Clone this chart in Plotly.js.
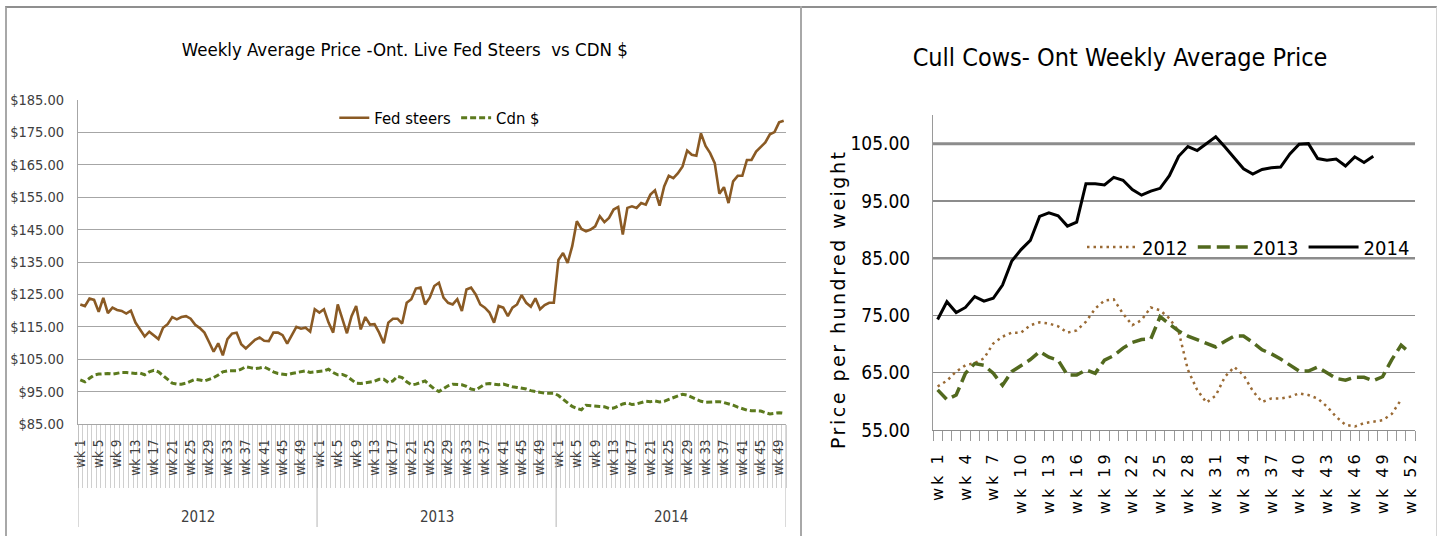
<!DOCTYPE html>
<html><head><meta charset="utf-8">
<script src="https://cdn.plot.ly/plotly-3.0.1.min.js"></script>
<style>
body{margin:0;background:#fff;width:1440px;height:536px;overflow:hidden;position:relative;}
#frame{position:absolute;left:5px;top:6px;width:1429px;height:540px;border-top:2px solid #8f8f8f;border-left:2px solid #a8a8a8;border-right:1px solid #d4d4d4;}
#divider{position:absolute;left:800px;top:6px;width:2px;height:540px;background:#a8a8a8;}
#left{position:absolute;left:0;top:0;width:800px;height:536px;}
#right{position:absolute;left:800px;top:0;width:640px;height:536px;}
#right .xtick text{letter-spacing:3px;}
#right .annotation-text{letter-spacing:2.5px;}
</style></head>
<body>
<div id="frame"></div><div id="divider"></div>
<div id="left"></div><div id="right"></div>
<script>
const NARROW = "'Liberation Sans Narrow', 'DejaVu Sans Condensed', 'Arial Narrow', sans-serif";

// ---------- Left chart data ----------
const years = ['2012', '2013', '2014'];
const weekLabels = ['wk 1','wk 2','wk 3','wk 4','wk 5','wk 6','wk 7','wk 8','wk 9','wk 10','wk 11','wk 12','wk 13','wk 14','wk 15','wk 16','wk 17','wk 18','wk 19','wk 20','wk 21','wk 22','wk 23','wk 24','wk 25','wk 26','wk 27','wk 28','wk 29','wk 30','wk 31','wk 32','wk 33','wk 34','wk 35','wk 36','wk 37','wk 38','wk 39','wk 40','wk 41','wk 42','wk 43','wk 44','wk 45','wk 46','wk 47','wk 48','wk 49','wk 50','wk 51','wk 52'];

const fedSteers2012 = [121.9,121.4,123.7,123.3,119.6,123.9,119.2,120.9,120.2,119.9,119.1,120.0,116.3,114.0,112.0,113.5,112.4,111.2,114.7,115.8,118.0,117.3,118.0,118.3,117.5,115.6,114.6,113.2,110.3,107.3,109.9,106.2,111.2,112.9,113.2,109.6,108.3,109.8,111.0,111.7,110.7,110.6,113.2,113.2,112.4,109.8,112.4,115.0,114.4,114.7,113.5,120.4];
const fedSteers2013 = [119.4,120.4,116.3,113.2,121.9,117.8,113.0,118.3,121.4,114.2,118.0,115.7,115.8,113.2,109.9,116.3,117.5,117.5,116.0,122.4,123.5,126.8,127.1,121.9,124.0,127.6,128.6,124.0,122.4,121.9,123.5,119.9,126.5,127.1,125.0,121.9,120.9,119.4,116.3,121.4,120.9,118.3,120.9,121.9,124.8,122.4,121.2,123.8,120.4,121.7,122.4,122.4];
const fedSteers2014 = [135.6,137.8,134.7,139.9,147.6,145.2,144.5,145.0,146.0,149.1,147.3,148.6,151.2,152.0,143.5,151.7,152.2,151.7,153.2,152.7,155.8,157.1,152.4,158.3,161.6,160.9,162.4,164.5,169.4,168.1,167.8,174.7,170.8,168.6,165.5,156.1,158.1,153.2,159.9,161.6,161.6,166.5,166.5,169.1,170.6,171.9,174.4,175.1,178.1,178.6];

const cdn2012 = [98.6,98.0,99.1,100.1,100.4,100.6,100.6,100.4,100.7,100.9,100.9,100.7,100.6,100.7,100.2,101.1,101.6,101.1,99.9,98.8,97.6,97.3,97.3,97.6,98.1,98.8,98.6,98.3,98.8,99.3,100.1,101.1,101.4,101.4,101.4,101.9,102.7,102.4,102.1,102.3,102.6,101.9,101.1,100.6,100.4,100.2,100.6,100.9,101.1,101.4,100.9,101.1];
const cdn2013 = [101.1,101.4,101.9,100.9,100.2,100.3,99.7,98.5,97.6,97.5,97.8,98.1,98.2,98.8,98.8,97.8,98.3,99.7,99.3,98.0,97.1,97.3,97.8,98.3,97.0,95.8,95.0,95.8,96.8,97.3,97.2,97.1,96.6,95.8,95.5,96.3,97.3,97.5,97.3,97.1,97.3,96.8,96.5,96.3,96.1,95.8,95.3,95.0,94.6,94.5,94.5,94.5];
const cdn2014 = [93.8,92.6,91.4,90.4,89.8,89.4,90.8,90.6,90.4,90.4,90.3,89.8,89.9,90.6,91.2,91.5,91.0,91.2,91.7,92.0,91.9,92.1,91.8,92.0,92.6,93.2,93.8,94.2,93.9,93.3,92.7,92.0,91.7,91.7,91.7,91.9,91.6,91.3,90.8,90.2,89.7,89.3,89.1,89.1,89.0,88.5,88.1,88.3,88.5,88.3];

// ---------- Right chart data ----------
const cull2012 = [62.6,63.6,65.2,66.3,66.7,67.5,70.1,71.3,72.0,72.0,73.3,73.8,73.6,73.1,72.0,72.4,73.9,76.2,77.6,77.8,75.3,73.3,74.2,76.4,75.9,74.5,72.2,65.5,62.0,59.8,61.0,64.3,66.0,64.6,61.8,59.9,60.5,60.5,60.8,61.4,61.1,60.5,59.1,57.3,55.9,55.6,56.2,56.4,56.7,57.8,60.3];
const cull2013 = [62.0,60.3,61.1,64.9,66.6,66.3,64.9,62.8,65.2,66.3,67.3,68.7,67.7,67.2,64.6,64.6,65.5,64.9,67.2,68.0,69.3,70.3,70.8,70.9,74.8,73.5,72.3,71.4,70.8,70.2,69.5,70.5,71.4,71.4,70.3,69.0,68.3,67.4,66.3,65.3,65.3,66.0,65.0,64.0,63.7,64.2,64.2,63.6,64.3,67.3,69.8,68.4];
const cull2014 = [74.3,77.4,75.5,76.4,78.3,77.5,78.0,80.3,84.5,86.5,88.1,92.3,92.9,92.4,90.6,91.3,98.0,98.0,97.8,99.1,98.6,97.0,96.0,96.7,97.2,99.4,102.8,104.5,103.8,105.0,106.2,104.4,102.4,100.6,99.7,100.5,100.8,100.9,103.2,104.9,105.0,102.4,102.1,102.3,101.1,102.7,101.7,102.8];
const cullSeriesNames = ['2012', '2013', '2014'];

// ---------- Left chart build ----------
const fedYears = [fedSteers2012, fedSteers2013, fedSteers2014];
const cdnYears = [cdn2012, cdn2013, cdn2014];
let xIdx = [], fedAll = [], cdnAll = [], lTickVals = [], lTickText = [], bounds = [-0.5], centers = [];
let off = 0;
fedYears.forEach((arr, yi) => {
  arr.forEach((v, w) => {
    xIdx.push(off + w);
    fedAll.push(v);
    cdnAll.push(cdnYears[yi][w]);
    if (w % 4 === 0) { lTickVals.push(off + w); lTickText.push(weekLabels[w]); }
  });
  centers.push(off + (arr.length - 1) / 2);
  off += arr.length;
  bounds.push(off - 0.5);
});
const plotH_L = 324;
const leftShapes = bounds.map(b => ({type:'line', xref:'x', yref:'paper', x0:b, x1:b, y0:0, y1:-103/plotH_L, line:{color:'#b4b4b4', width:1}}));
const leftAnn = years.map((yr, i) => ({text:yr, x:centers[i], xref:'x', yref:'paper', y:-93/plotH_L, yanchor:'middle', showarrow:false, font:{family:NARROW, size:15, color:'#404040'}}));

Plotly.newPlot('left', [
  {x:xIdx, y:fedAll, name:'Fed steers', type:'scatter', mode:'lines', line:{color:'#8a5a24', width:2.6}},
  {x:xIdx, y:cdnAll, name:'Cdn $', type:'scatter', mode:'lines', line:{color:'#5c7a1e', width:3, dash:'6px,3px'}}
], {
  width:800, height:536,
  margin:{l:78, r:14, t:100, b:112},
  paper_bgcolor:'rgba(0,0,0,0)', plot_bgcolor:'rgba(0,0,0,0)',
  title:{text:'Weekly Average Price -Ont. Live Fed Steers \u00a0vs CDN $', font:{family:NARROW, size:18.5, color:'#000'}, xref:'container', yref:'container', x:0.506, xanchor:'center', y:1-50/536, yanchor:'middle'},
  showlegend:true,
  legend:{orientation:'h', x:0.511, xanchor:'center', y:1-18/plotH_L, yanchor:'middle', font:{family:NARROW, size:16.5, color:'#000'}, bgcolor:'rgba(0,0,0,0)'},
  xaxis:{range:[-0.5, off-0.5], tickmode:'array', tickvals:lTickVals, ticktext:lTickText, tickangle:-90, ticks:'', showline:true, linecolor:'#a6a6a6', linewidth:1, showgrid:false, zeroline:false, ticklabelstandoff:9,
    tickfont:{family:NARROW, size:13.5, color:'#404040'},
    minor:{tickmode:'linear', tick0:-0.5, dtick:1, ticks:'outside', ticklen:63, tickcolor:'#cfcfcf', tickwidth:1, showgrid:false}},
  yaxis:{range:[85,185], tick0:85, dtick:10, tickprefix:'$', tickformat:'.2f', showgrid:true, gridcolor:'#a6a6a6', gridwidth:1, showline:true, linecolor:'#a6a6a6', ticks:'', zeroline:false, ticklabelstandoff:10,
    tickfont:{family:NARROW, size:14.5, color:'#404040'}},
  shapes:leftShapes,
  annotations:leftAnn
}, {displayModeBar:false, staticPlot:true});

// ---------- Right chart build ----------
const cullYears = [cull2012, cull2013, cull2014];
const rTickVals = [], rTickText = [];
weekLabels.forEach((lab, i) => { if (i % 3 === 0) { rTickVals.push(i); rTickText.push(lab); } });
const cullStyles = [
  {color:'#9a6a34', width:2.5, dash:'2.5px,4px'},
  {color:'#52691e', width:3.5, dash:'13px,6px'},
  {color:'#000000', width:3}
];
const rightTraces = cullYears.map((arr, i) => ({
  x: arr.map((v, w) => w), y: arr, name: cullSeriesNames[i], type:'scatter', mode:'lines', line: cullStyles[i]
}));
const plotH_R = 315, plotW_R = 482;
Plotly.newPlot('right', rightTraces, {
  width:640, height:536,
  margin:{l:133, r:25, t:115, b:106},
  paper_bgcolor:'rgba(0,0,0,0)', plot_bgcolor:'rgba(0,0,0,0)',
  title:{text:'Cull Cows- Ont Weekly Average Price', font:{family:NARROW, size:25, color:'#000'}, xref:'container', yref:'container', x:0.5, xanchor:'center', y:1-57/536, yanchor:'middle'},
  showlegend:true,
  legend:{orientation:'h', x:1, xanchor:'right', y:1-132/plotH_R, yanchor:'middle', font:{family:NARROW, size:20, color:'#000'}, bgcolor:'rgba(0,0,0,0)', itemwidth:50},
  xaxis:{range:[-0.5, 51.5], tickmode:'array', tickvals:rTickVals, ticktext:rTickText, tickangle:-90, ticks:'', showline:true, linecolor:'#8c8c8c', linewidth:1, showgrid:false, zeroline:false, ticklabelstandoff:14,
    tickfont:{family:'DejaVu Sans', size:16, color:'#000'},
    minor:{tickmode:'linear', tick0:-0.5, dtick:1, ticks:'outside', ticklen:10, tickcolor:'#9a9a9a', tickwidth:1, showgrid:false}},
  yaxis:{range:[55,110], tick0:55, dtick:10, tickformat:'.2f', showgrid:true, gridcolor:'#8c8c8c', gridwidth:1.3, showline:true, linecolor:'#9a9a9a', ticks:'', zeroline:false, ticklabelstandoff:18,
    tickfont:{family:NARROW, size:19, color:'#000'}},
  shapes:[
    {type:'line', xref:'paper', yref:'y', x0:0, x1:1, y0:105, y1:105, line:{color:'#8c8c8c', width:3}, layer:'below'},
    {type:'line', xref:'paper', yref:'y', x0:0, x1:1, y0:85, y1:85, line:{color:'#8c8c8c', width:2.5}, layer:'below'}
  ],
  annotations:[{text:'Price per hundred weight', textangle:-90, xref:'paper', yref:'paper', x:-95/plotW_R, y:1-185/plotH_R, xanchor:'center', yanchor:'middle', showarrow:false, font:{family:'DejaVu Sans', size:19, color:'#000'}}]
}, {displayModeBar:false, staticPlot:true});
</script>
</body></html>
